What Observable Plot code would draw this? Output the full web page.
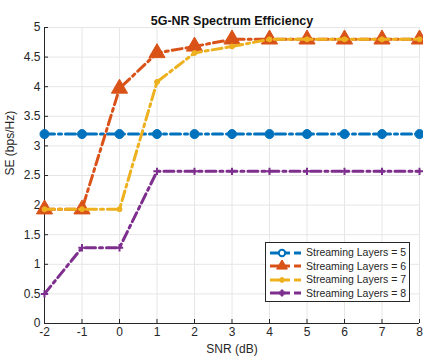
<!DOCTYPE html>
<html><head><meta charset="utf-8">
<script src="https://cdn.jsdelivr.net/npm/d3@7"></script>
<script src="https://cdn.jsdelivr.net/npm/@observablehq/plot@0.6"></script>
<style>
body{margin:0;background:#fff;font-family:Arial,"Liberation Sans",sans-serif;}
#wrap{position:relative;width:423px;height:358px;}
#legend{position:absolute;left:265px;top:242px;width:145px;height:60px;border:1px solid #262626;background:#fff;box-sizing:border-box;font-size:10.5px;color:#262626;padding-top:3px;white-space:nowrap;line-height:13px;}
.row{display:flex;align-items:center;height:13.5px;white-space:nowrap;}
.row svg{margin-left:3px;margin-right:3px;flex:none;}
</style></head><body>
<div id="wrap"><div id="chart"></div><div id="legend"></div></div>
<script>
const snr = [-2,-1,0,1,2,3,4,5,6,7,8];
const layers5 = [3.2,3.2,3.2,3.2,3.2,3.2,3.2,3.2,3.2,3.2,3.2];
const layers6 = [1.93,1.93,3.97,4.57,4.68,4.8,4.8,4.8,4.8,4.8,4.8];
const layers7 = [1.93,1.93,1.93,4.08,4.57,4.68,4.8,4.8,4.8,4.8,4.8];
const layers8 = [0.5,1.28,1.28,2.57,2.57,2.57,2.57,2.57,2.57,2.57,2.57];
const seriesNames = ["Streaming Layers = 5","Streaming Layers = 6","Streaming Layers = 7","Streaming Layers = 8"];
const colors = ["#0072BD","#D95319","#EDB120","#7E2F8E"];
const symbols = ["circle","triangle","circle","plus"];
const markerR = [4.5,6,2.5,2.5];
const xTicks = [-2,-1,0,1,2,3,4,5,6,7,8];
const yTicks = [0,0.5,1,1.5,2,2.5,3,3.5,4,4.5,5];

const all = [layers5,layers6,layers7,layers8];
const data = [];
all.forEach((vals,i)=>vals.forEach((v,j)=>data.push({x:snr[j],y:v,s:i})));
const dash = "10,4,3,4";

const marks = [
  Plot.gridX(xTicks,{stroke:"#e6e6e6",strokeOpacity:1}),
  Plot.gridY(yTicks,{stroke:"#e6e6e6",strokeOpacity:1}),
  Plot.ruleX([-2],{stroke:"#262626"}),
  Plot.ruleY([0],{stroke:"#262626"}),
  Plot.axisX({ticks:xTicks,tickSize:-4,tickPadding:8,fontSize:12,color:"#262626",label:null,tickFormat:d=>String(d)}),
  Plot.axisY({ticks:yTicks,tickSize:-4,tickPadding:8,fontSize:12,color:"#262626",label:null,tickFormat:d=>String(d)}),
];
all.forEach((vals,i)=>{
  const d = data.filter(r=>r.s===i);
  marks.push(Plot.line(d,{x:"x",y:"y",stroke:colors[i],strokeWidth:3,strokeDasharray:dash}));
  marks.push(Plot.dot(d,{x:"x",y:"y",symbol:symbols[i],r:markerR[i],fill:colors[i],stroke:colors[i],strokeWidth:symbols[i]==="plus"?2:1}));
});
marks.push(Plot.text(["5G-NR Spectrum Efficiency"],{frameAnchor:"top",dy:-11,fontWeight:"bold",fontSize:12.5,fill:"#111"}));
marks.push(Plot.text(["SNR (dB)"],{frameAnchor:"bottom",dy:29,fontSize:12,fill:"#262626"}));
marks.push(Plot.text(["SE (bps/Hz)"],{frameAnchor:"left",dx:-34,rotate:-90,fontSize:12,fill:"#262626"}));

const chart = Plot.plot({
  width:423,height:358,
  marginTop:27,marginLeft:44,marginRight:4,marginBottom:35,
  style:{fontFamily:"Arial, 'Liberation Sans', sans-serif",background:"#fff",overflow:"visible",fontSize:"12px"},
  x:{domain:[-2,8]},
  y:{domain:[0,5]},
  marks
});
document.getElementById("chart").appendChild(chart);

const leg = document.getElementById("legend");
seriesNames.forEach((name,i)=>{
  const row = document.createElement("div");
  row.className="row";
  const sym = d3.symbol().type({circle:d3.symbolCircle,triangle:d3.symbolTriangle,plus:d3.symbolCross}[symbols[i]]).size(i===1?50:i===0?40:i===2?18:20)();
  const inner = i===0 ? `<circle cx="13" cy="6" r="3.2" fill="#fff" stroke="${colors[i]}" stroke-width="2"/>` : `<path d="${sym}" transform="translate(13,6)" fill="${colors[i]}" stroke="${colors[i]}"/>`;
  row.innerHTML = `<svg width="34" height="12"><line x1="1" y1="6" x2="21" y2="6" stroke="${colors[i]}" stroke-width="3"/><line x1="25" y1="6" x2="32" y2="6" stroke="${colors[i]}" stroke-width="3"/>${inner}</svg><span>${name}</span>`;
  leg.appendChild(row);
});
</script></body></html>
